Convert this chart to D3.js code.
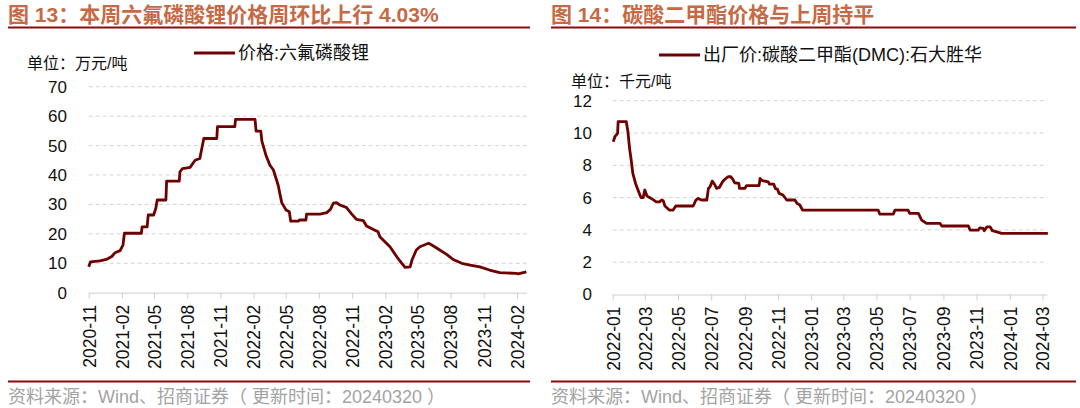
<!DOCTYPE html>
<html>
<head>
<meta charset="utf-8">
<script src="https://cdn.jsdelivr.net/npm/d3@7"></script>
<style>
  html, body { margin: 0; padding: 0; background: #fff; }
  svg { display: block; }
  svg text { font-family: "Liberation Sans", Arial, "Noto Sans CJK SC", sans-serif; }
  .title { font-weight: bold; fill: #c66a45; font-size: 21px; }
</style>
</head>
<body>
<div id="chart"></div>
<script>
// 图13 六氟磷酸锂价格 (万元/吨)
const lipf6Dates = [
  '2020-11-01','2020-11-06','2020-12-02','2020-12-20','2021-01-04','2021-01-13','2021-01-27',
  '2021-02-04','2021-02-08','2021-03-27','2021-03-29','2021-04-12','2021-04-15','2021-04-30',
  '2021-05-06','2021-05-10','2021-06-03','2021-06-05','2021-07-10','2021-07-12','2021-07-19',
  '2021-08-09','2021-08-23','2021-09-05','2021-09-16','2021-10-22','2021-10-24','2021-12-11',
  '2021-12-13','2022-02-05','2022-02-08','2022-02-21','2022-02-24','2022-03-07','2022-03-18',
  '2022-03-28','2022-04-10','2022-04-20','2022-05-02','2022-05-11','2022-05-15','2022-06-05',
  '2022-06-08','2022-06-26','2022-06-28','2022-08-04','2022-08-23','2022-09-02','2022-09-10',
  '2022-09-19','2022-09-28','2022-10-16','2022-10-30','2022-11-13','2022-12-02','2022-12-11',
  '2022-12-30','2023-01-12','2023-01-17','2023-01-31','2023-02-14','2023-03-05','2023-03-19',
  '2023-03-28','2023-04-11','2023-04-16','2023-04-28','2023-05-08','2023-06-01','2023-06-10',
  '2023-07-02','2023-07-21','2023-08-08','2023-09-01','2023-09-24','2023-10-21','2023-11-17',
  '2023-12-15','2024-01-30','2024-02-04','2024-02-27'
];
const lipf6Values = [
  8.8, 10.5, 10.8, 11.3, 12.3, 13.6, 14.3,
  16.2, 20.2, 20.2, 22.4, 22.4, 26.4, 26.4,
  28.7, 31.5, 31.5, 37.9, 37.9, 41.1, 42.2,
  42.6, 45.0, 45.6, 52.4, 52.4, 56.4, 56.4,
  58.9, 58.9, 54.9, 54.9, 51.5, 46.8, 43.4,
  41.7, 36.6, 30.6, 28.1, 27.5, 24.3, 24.3,
  24.7, 24.7, 26.7, 26.7, 27.2, 28.3, 30.4,
  30.6, 29.8, 29.0, 26.9, 24.9, 24.5, 22.7,
  21.5, 20.7, 19.0, 17.3, 15.6, 12.2, 10.0,
  8.6, 8.8, 11.1, 14.5, 15.6, 16.8, 16.2,
  14.5, 13.0, 11.3, 10.0, 9.4, 8.8, 7.7,
  6.8, 6.6, 6.4, 7.1
];
const lipf6Ticks = ['2020-11','2021-02','2021-05','2021-08','2021-11','2022-02','2022-05',
  '2022-08','2022-11','2023-02','2023-05','2023-08','2023-11','2024-02'];
const lipf6YTicks = [0, 10, 20, 30, 40, 50, 60, 70];

// 图14 碳酸二甲酯价格 (千元/吨)
const dmcDates = [
  '2022-01-02','2022-01-05','2022-01-10','2022-01-11','2022-01-26','2022-01-29','2022-02-01',
  '2022-02-04','2022-02-07','2022-02-12','2022-02-19','2022-02-22','2022-02-26','2022-03-01',
  '2022-03-05','2022-03-13','2022-03-22','2022-03-28','2022-04-01','2022-04-04','2022-04-07',
  '2022-04-15','2022-04-22','2022-04-27','2022-05-29','2022-06-03','2022-06-07','2022-06-13',
  '2022-06-23','2022-06-26','2022-06-29','2022-07-03','2022-07-08','2022-07-11','2022-07-16',
  '2022-07-22','2022-07-26','2022-08-01','2022-08-06','2022-08-10','2022-08-13','2022-08-21',
  '2022-08-22','2022-09-01','2022-09-04','2022-09-27','2022-09-29','2022-10-03','2022-10-14',
  '2022-10-16','2022-10-24','2022-10-27','2022-10-31','2022-11-03','2022-11-10','2022-11-17',
  '2022-12-02','2022-12-06','2022-12-11','2022-12-16','2023-05-04','2023-05-07','2023-06-01',
  '2023-06-04','2023-06-28','2023-07-01','2023-07-17','2023-07-23','2023-08-01','2023-08-26',
  '2023-08-29','2023-10-17','2023-10-20','2023-11-04','2023-11-07','2023-11-13','2023-11-15',
  '2023-11-20','2023-11-26','2023-11-30','2023-12-08','2023-12-17','2024-03-11'
];
const dmcValues = [
  9.46, 9.77, 9.98, 10.7, 10.7, 10.08, 9.05,
  8.33, 7.5, 6.88, 6.26, 6.0, 6.0, 6.47,
  6.1, 5.95, 5.74, 5.74, 5.85, 5.8, 5.48,
  5.23, 5.23, 5.48, 5.48, 5.85, 5.95, 5.85,
  5.85, 6.57, 6.67, 7.02, 6.78, 6.57, 6.63,
  6.98, 7.13, 7.29, 7.29, 7.13, 6.92, 6.88,
  6.57, 6.57, 6.74, 6.74, 7.19, 7.05, 6.98,
  6.84, 6.84, 6.57, 6.51, 6.26, 6.16, 5.85,
  5.85, 5.64, 5.54, 5.23, 5.23, 4.98, 4.98,
  5.23, 5.23, 5.02, 5.02, 4.61, 4.4, 4.4,
  4.24, 4.24, 3.99, 3.99, 4.13, 4.09, 3.95,
  4.19, 4.19, 3.95, 3.88, 3.78, 3.78
];
const dmcTicks = ['2022-01','2022-03','2022-05','2022-07','2022-09','2022-11','2023-01',
  '2023-03','2023-05','2023-07','2023-09','2023-11','2024-01','2024-03'];
const dmcYTicks = [0, 2, 4, 6, 8, 10, 12];

const source = '资料来源：Wind、招商证券（ 更新时间：20240320 ）';

const W = 1080, H = 408;
const FONT = '"Liberation Sans", Arial, "Noto Sans CJK SC", sans-serif';
const parseDay = d3.timeParse('%Y-%m-%d');
const parseMonth = d3.timeParse('%Y-%m');

const svg = d3.select('#chart').append('svg')
  .attr('width', W).attr('height', H)
  .attr('viewBox', `0 0 ${W} ${H}`);

function drawPanel(o) {
  const g = svg.append('g');

  // 标题 + 下划线
  g.append('text').attr('class', 'title')
    .attr('x', o.left).attr('y', 21.5)
    .text(o.title);
  g.append('line')
    .attr('x1', o.left).attr('x2', o.right)
    .attr('y1', 27.5).attr('y2', 27.5)
    .attr('stroke', '#8e0b0b').attr('stroke-width', 2);

  // 图例
  g.append('line')
    .attr('x1', o.legendX).attr('x2', o.legendX + 41)
    .attr('y1', o.legendY).attr('y2', o.legendY)
    .attr('stroke', '#6e0000').attr('stroke-width', 3);
  g.append('text')
    .attr('x', o.legendX + 44).attr('y', o.legendY)
    .attr('dy', '0.35em')
    .style('font-size', '18px').attr('fill', '#111')
    .text(o.legend);

  // 单位
  g.append('text')
    .attr('x', o.unitX).attr('y', o.unitY)
    .attr('dy', '0.35em')
    .style('font-size', '16px').attr('fill', '#111')
    .text(o.unit);

  const x = d3.scaleTime().domain(o.xDomain).range([o.x0, o.x1]);
  const y = d3.scaleLinear().domain([0, d3.max(o.yTicks)]).range([o.y0, o.y1]);

  // 网格线
  g.append('g').selectAll('line')
    .data(o.yTicks.filter(d => d > 0))
    .enter().append('line')
    .attr('x1', o.x0).attr('x2', o.x1)
    .attr('y1', d => y(d)).attr('y2', d => y(d))
    .attr('stroke', '#d4d4d4').attr('stroke-width', 1)
    .attr('stroke-dasharray', '4,3');

  // y 轴
  const yAxis = g.append('g')
    .attr('transform', `translate(${o.yLabelX},0)`)
    .call(d3.axisLeft(y).tickValues(o.yTicks).tickSize(0).tickPadding(0));
  yAxis.attr('font-family', FONT).attr('font-size', 17);
  yAxis.select('.domain').remove();
  yAxis.selectAll('text').attr('fill', '#111');

  // x 轴
  const xAxis = g.append('g')
    .attr('transform', `translate(0,${o.y0})`)
    .call(d3.axisBottom(x)
      .tickValues(o.xTicks.map(parseMonth))
      .tickFormat(d3.timeFormat('%Y-%m'))
      .tickSize(6).tickSizeOuter(0));
  xAxis.attr('font-family', FONT).attr('font-size', 17.5);
  xAxis.select('.domain').attr('stroke', '#cfcfcf').attr('d', `M${o.x0},0.5H${o.x1}`);
  xAxis.selectAll('.tick line').attr('stroke', '#cfcfcf');
  xAxis.selectAll('.tick text')
    .attr('fill', '#111')
    .attr('text-anchor', 'end')
    .attr('transform', 'rotate(-90)')
    .attr('x', -12).attr('y', 0).attr('dy', '0.36em');

  // 折线
  const pts = o.dates.map((d, i) => [parseDay(d), o.values[i]]);
  g.append('path')
    .datum(pts)
    .attr('fill', 'none')
    .attr('stroke', '#6e0000')
    .attr('stroke-width', 2.8)
    .attr('stroke-linejoin', 'round')
    .attr('d', d3.line().x(d => x(d[0])).y(d => y(d[1])));

  // 底部
  g.append('line')
    .attr('x1', o.left).attr('x2', o.right)
    .attr('y1', 381.5).attr('y2', 381.5)
    .attr('stroke', '#8e0b0b').attr('stroke-width', 2);
  g.append('text')
    .attr('x', o.left).attr('y', 397)
    .attr('dy', '0.35em')
    .style('font-size', '18px').attr('fill', '#a3a3a3')
    .text(source);
}

drawPanel({
  title: '图 13：本周六氟磷酸锂价格周环比上行 4.03%',
  legend: '价格:六氟磷酸锂',
  unit: '单位：万元/吨',
  left: 8, right: 530,
  legendX: 194, legendY: 53,
  unitX: 27, unitY: 63,
  x0: 88.7, x1: 526.7, y0: 292.7, y1: 86.7,
  yLabelX: 67,
  xDomain: [parseDay('2020-11-01'), parseDay('2024-02-28')],
  xTicks: lipf6Ticks, yTicks: lipf6YTicks,
  dates: lipf6Dates, values: lipf6Values
});

drawPanel({
  title: '图 14：碳酸二甲酯价格与上周持平',
  legend: '出厂价:碳酸二甲酯(DMC):石大胜华',
  unit: '单位：千元/吨',
  left: 551, right: 1076,
  legendX: 659, legendY: 55,
  unitX: 571, unitY: 81,
  x0: 612.7, x1: 1047.3, y0: 294.5, y1: 100.7,
  yLabelX: 592,
  xDomain: [parseDay('2022-01-01'), parseDay('2024-03-10')],
  xTicks: dmcTicks, yTicks: dmcYTicks,
  dates: dmcDates, values: dmcValues
});
</script>
</body>
</html>
